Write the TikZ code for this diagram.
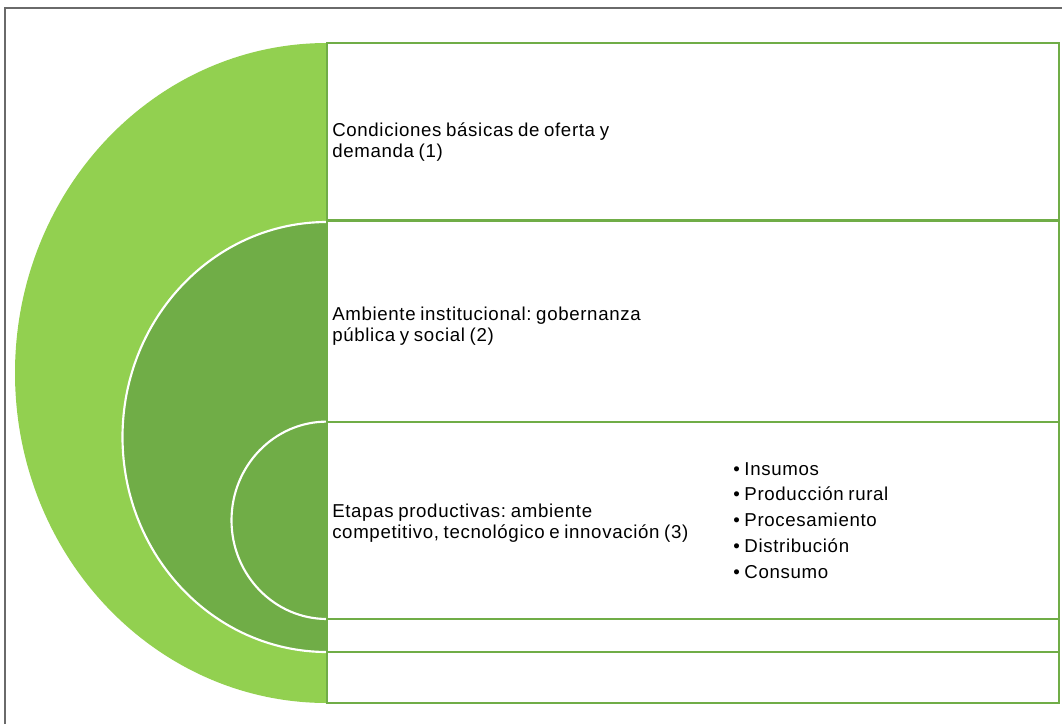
\documentclass[tikz,border=0pt]{standalone}
\usepackage{fontspec}
\setmainfont{Liberation Sans}[LetterSpace=3.5, WordSpace=0.8]
\frenchspacing
\definecolor{lightg}{HTML}{92D050}
\definecolor{medg}{HTML}{70AD47}
\definecolor{frameg}{HTML}{6A6A6A}
\tikzset{
  band/.style={draw=medg, line width=1.6pt, fill=white, rectangle, inner sep=0pt, outer sep=0pt,
    anchor=north west, minimum width=549pt},
  label/.style={anchor=base west, align=left, inner sep=0pt,
    font=\fontsize{14pt}{15.75pt}\selectfont},
  bullets/.style={anchor=base west, align=left, inner sep=0pt,
    font=\fontsize{14pt}{19.3pt}\selectfont},
  ring/.style={draw=white, line width=1.6pt, fill=medg}
}
\begin{document}
\begin{tikzpicture}[x=0.75pt, y=-0.75pt]
\useasboundingbox (0,0) rectangle (1062,724);
% outer frame
\draw[frameg, line width=1.1pt] (5,724) -- (5,8) -- (1062,8);
% half discs
\fill[lightg] (327,373) ellipse [x radius=312, y radius=330];
\path[ring] (327,437) ellipse [x radius=204.5, y radius=215];
\path[ring] (327,520.3) ellipse [x radius=95.5, y radius=98.7];
% bands
\node[band, minimum height=133.1pt] (b1) at (327,43) {};
\node[band, minimum height=150.9pt] (b2) at (327,220.5) {};
\node[band, minimum height=148.0pt] (b3) at (327,421.7) {};
\node[band, minimum height=24.75pt] (b4) at (327,619) {};
\node[band, minimum height=38.25pt] (b5) at (327,652) {};
% texts (anchored at the baseline of the last line)
\node[label] (t1) at (332,157.5) {Condiciones básicas de oferta y\\demanda (1)};
\node[label] (t2) at (332,341.7) {Ambiente institucional: gobernanza\\pública y social (2)};
\node[label] (t3) at (332,538.3) {Etapas productivas: ambiente\\competitivo, tecnológico e innovación (3)};
\node[bullets] (t4) at (733,578) {•\hspace{3.5pt}Insumos\\•\hspace{3.5pt}Producción rural\\•\hspace{3.5pt}Procesamiento\\•\hspace{3.5pt}Distribución\\•\hspace{3.5pt}Consumo};
\end{tikzpicture}
\end{document}
